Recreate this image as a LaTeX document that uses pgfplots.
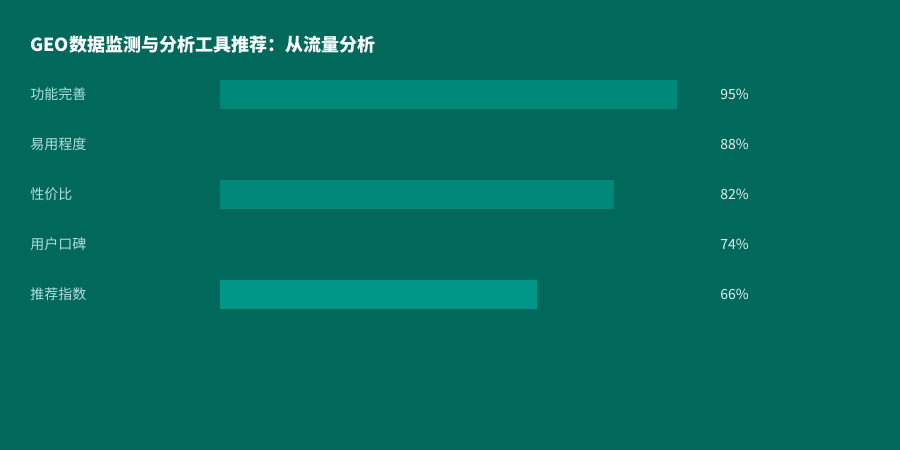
\documentclass[border=0pt]{standalone}
\usepackage{fontspec}
\setmainfont{Noto Sans CJK SC}
\usepackage{pgfplots}
\pgfplotsset{compat=1.18}

\definecolor{bg}{HTML}{00695C}
\definecolor{barA}{HTML}{00897B}
\definecolor{barB}{HTML}{009688}
\definecolor{lbl}{HTML}{B2DFDB}
\definecolor{val}{HTML}{E0F2F1}

\begin{document}
\begin{tikzpicture}
% 1px = 0.5pt, origin at top left
\fill[bg] (0,0) rectangle (450pt,-225pt);
\node[anchor=west, inner sep=0, text=white, font=\bfseries\fontsize{9}{10}\selectfont]
  at (15pt,-22.5pt) {GEO数据监测与分析工具推荐：从流量分析};

\begin{axis}[
    at={(110pt,-34.75pt)}, anchor=north west,
    width=240.5pt, height=125pt, scale only axis,
    xmin=0, xmax=100, ymin=-0.5, ymax=4.5,
    y dir=reverse, clip=false,
    hide axis,
]
\addplot[xbar, bar width=14.25pt, bar shift=0pt, fill=barA, draw=none] coordinates {(95,0)};
\addplot[xbar, bar width=14.25pt, bar shift=0pt, fill=bg, draw=none] coordinates {(88,1)};
\addplot[xbar, bar width=14.25pt, bar shift=0pt, fill=barA, draw=none] coordinates {(82,2)};
\addplot[xbar, bar width=14.25pt, bar shift=0pt, fill=bg, draw=none] coordinates {(74,3)};
\addplot[xbar, bar width=14.25pt, bar shift=0pt, fill=barB, draw=none] coordinates {(66,4)};
% category labels at the left column
\addplot[only marks, mark=none, point meta=explicit symbolic,
    nodes near coords,
    nodes near coords style={anchor=west, inner sep=0pt, text=lbl,
        font=\fontsize{7}{8}\selectfont}]
  coordinates {(-39.5,0) [功能完善] (-39.5,1) [易用程度] (-39.5,2) [性价比] (-39.5,3) [用户口碑] (-39.5,4) [推荐指数]};
% value labels at the right column
\addplot[only marks, mark=none, point meta=explicit symbolic,
    nodes near coords,
    nodes near coords style={anchor=west, inner sep=0pt, text=val,
        font=\fontsize{7}{8}\selectfont}]
  coordinates {(103.95,0) [95\%] (103.95,1) [88\%] (103.95,2) [82\%] (103.95,3) [74\%] (103.95,4) [66\%]};
\end{axis}
\end{tikzpicture}
\end{document}
